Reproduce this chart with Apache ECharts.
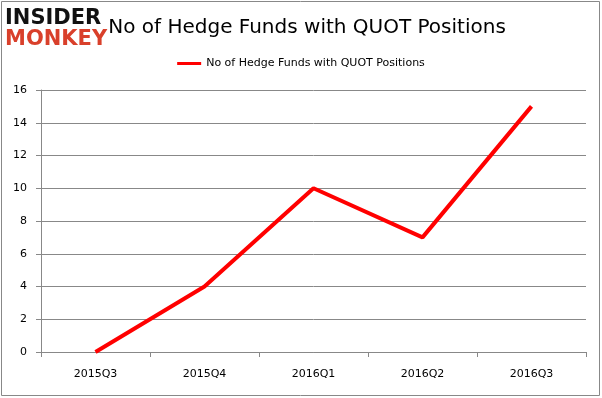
<!DOCTYPE html>
<html lang="en">
<head>
  <meta charset="UTF-8">
  <title>QUOT</title>
  <style>
    html, body { margin: 0; padding: 0; background: #fff; }
    #chart { width: 602px; height: 398px; }
  </style>
</head>
<body>
  <div id="chart"></div>
  <script src="https://cdn.jsdelivr.net/npm/echarts@6/dist/echarts.min.js"></script>
  <script>
    // data
    var quarters = ['2015Q3', '2015Q4', '2016Q1', '2016Q2', '2016Q3'];
    var funds = [0, 4, 10, 7, 15];
    var seriesName = 'No of Hedge Funds with QUOT Positions';

    var myChart = echarts.init(document.getElementById('chart'));
    var option = {
      animation: false,
      backgroundColor: '#fff',
      title: {
        text: seriesName,
        left: 302,
        textAlign: 'center',
        top: 13,
        textStyle: { fontFamily: 'DejaVu Sans', fontWeight: 'normal', fontSize: 20, color: '#000' }
      },
      legend: {
        top: 53,
        left: 'center',
        itemWidth: 24,
        itemHeight: 3,
        icon: 'rect',
        textStyle: { fontFamily: 'DejaVu Sans', fontSize: 11, color: '#000' },
        data: [seriesName]
      },
      graphic: [
        { type: 'rect', shape: { x: 1.5, y: 1.5, width: 598, height: 394 }, style: { fill: 'none', stroke: '#888', lineWidth: 1 } },
        { type: 'text', left: 5, top: 8, style: { text: 'INSIDER', font: '900 21px "DejaVu Sans"', fill: '#111' } },
        { type: 'text', left: 5, top: 29, style: { text: 'MONKEY', font: '900 21px "DejaVu Sans"', fill: '#d9402b' } }
      ],
      grid: { left: 41, right: 16, top: 90, bottom: 46 },
      xAxis: {
        type: 'category',
        data: quarters,
        boundaryGap: true,
        axisLine: { lineStyle: { color: '#888' } },
        axisTick: { show: true, length: 5, lineStyle: { color: '#888' } },
        axisLabel: { color: '#000', fontFamily: 'DejaVu Sans', fontSize: 11, margin: 17 }
      },
      yAxis: {
        type: 'value',
        min: 0,
        max: 16,
        interval: 2,
        axisLine: { show: true, lineStyle: { color: '#888' } },
        axisTick: { show: true, length: 5, lineStyle: { color: '#888' } },
        axisLabel: { color: '#000', fontFamily: 'DejaVu Sans', fontSize: 11, margin: 14 },
        splitLine: { lineStyle: { color: '#888' } }
      },
      series: [{
        name: seriesName,
        type: 'line',
        data: funds,
        symbol: 'none',
        color: '#ff0000',
        lineStyle: { width: 4, color: '#ff0000' }
      }]
    };
    myChart.setOption(option);
  </script>
</body>
</html>
